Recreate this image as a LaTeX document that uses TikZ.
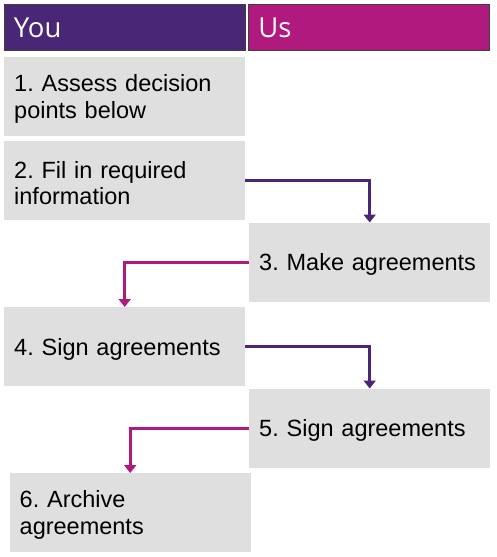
\documentclass[tikz,border=0pt]{standalone}
\usepackage{fontspec}
\setmainfont{Liberation Sans}
\newfontfamily\headfont{Open Sans}
\usetikzlibrary{arrows.meta}
\definecolor{youpurple}{HTML}{4A2776}
\definecolor{usmagenta}{HTML}{B01A7E}
\definecolor{boxgray}{HTML}{DFDFDF}
\frenchspacing
\begin{document}
\begin{tikzpicture}[x=1pt,y=-1pt,
  header/.style={draw=black!75,line width=0.8pt,anchor=north west,inner xsep=10pt,inner ysep=0pt,
    minimum height=46pt,text width=221pt,align=left,text=white,
    font=\headfont\fontsize{27.5pt}{30pt}\selectfont},
  stepbox/.style={fill=boxgray,anchor=north west,inner xsep=10pt,inner ysep=0pt,
    minimum height=79pt,text width=221pt,align=left,
    font=\fontsize{23.5pt}{26.5pt}\selectfont,
    execute at begin node={\rule{0pt}{21.5pt}}},
  flow/.style={line width=3pt,-{Triangle[width=12pt,length=8pt]}}]
\useasboundingbox (0,0) rectangle (496,557);

% column headers
\node[header,fill=youpurple] (you) at (3.5,4) {You};
\node[header,fill=usmagenta] (us) at (248,4) {Us};

% steps
\node[stepbox] (b1) at (4,57) {1. Assess decision\\points below};
\node[stepbox] (b2) at (4,141) {2. Fil in required\\information};
\node[stepbox] (b3) at (249,222.5) {3. Make agreements};
\node[stepbox] (b4) at (4,307) {4. Sign agreements};
\node[stepbox] (b5) at (249,388.5) {5. Sign agreements};
\node[stepbox] (b6) at (9.5,473) {6. Archive\\agreements};

% hand-over connectors
\draw[flow,youpurple] (b2.east) -| (b3.north);
\draw[flow,usmagenta] (b3.west) -| (b4.north);
\draw[flow,youpurple] (b4.east) -| (b5.north);
\draw[flow,usmagenta] (b5.west) -| (b6.north);
\end{tikzpicture}
\end{document}
